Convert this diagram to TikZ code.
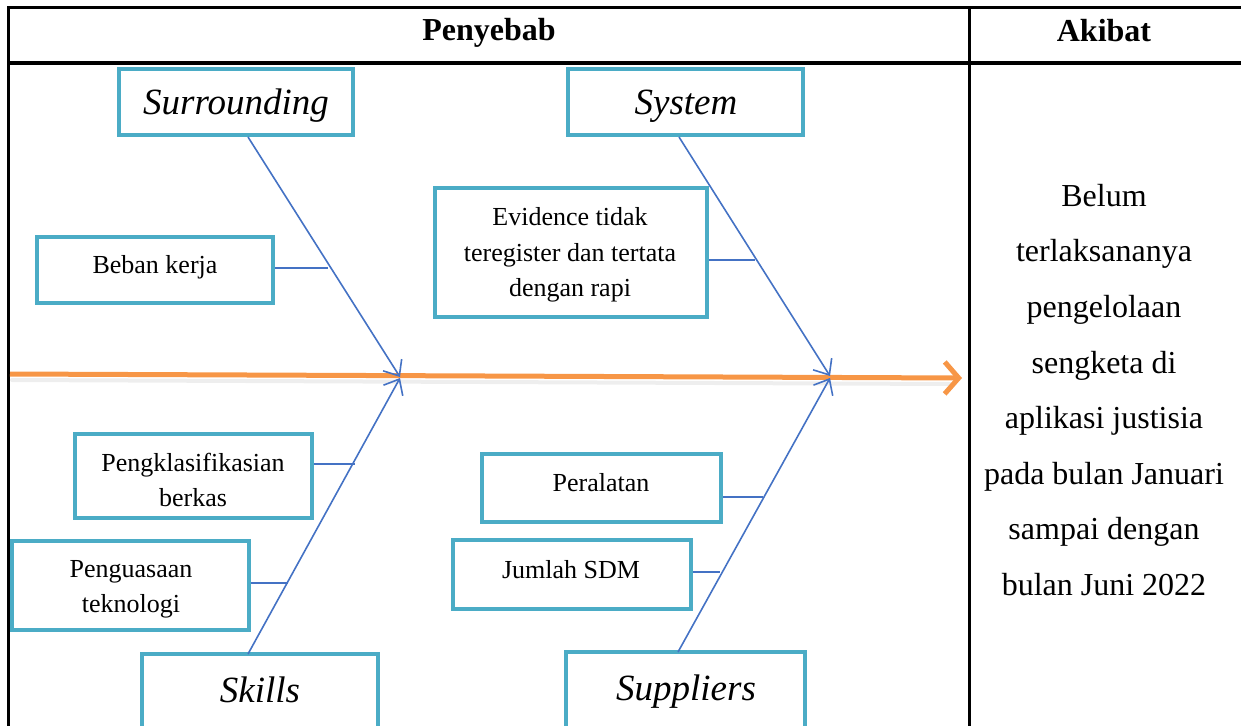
\documentclass[tikz,border=0pt]{standalone}
\usepackage{fontspec}
\setmainfont{Liberation Serif}
\usetikzlibrary{arrows.meta}
\definecolor{boxc}{RGB}{75,172,198}
\definecolor{bonec}{RGB}{68,114,196}
\definecolor{spinec}{RGB}{247,150,70}
\tikzset{
  causebox/.style={draw=boxc, line width=4.5pt, fill=white, inner sep=0pt},
  smalltxt/.style={font=\fontsize{26}{35.5}\selectfont, align=center, inner sep=0pt},
  bigtxt/.style={font=\fontsize{37}{40}\selectfont\itshape, inner sep=0pt},
  headtxt/.style={font=\fontsize{32}{34}\selectfont\bfseries, inner sep=0pt},
  efftxt/.style={font=\fontsize{32}{55.6}\selectfont, align=center, inner sep=0pt},
  bone/.style={draw=bonec, line width=1.6pt},
  bonearrow/.style={bone, -{Straight Barb[length=13pt,width=22pt,line width=1.6pt]}},
  rib/.style={draw=bonec, line width=1.4pt},
  tablerule/.style={draw=black, line width=3pt}
}
\begin{document}
\begin{tikzpicture}[x=1pt,y=-1pt]
\useasboundingbox (0,0) rectangle (1241,725);
\clip (0,0) rectangle (1241,725);
% table
\coordinate (tl) at (8,8);
\coordinate (tr) at (1245,8);
\coordinate (hl) at (8,63);
\coordinate (hr) at (1245,63);
\coordinate (bl) at (8,730);
\coordinate (dt) at (969,8);
\coordinate (db) at (969,730);
\draw[tablerule] (tr) -- (tl) -- (bl);
\draw[tablerule] (hl) -- (hr);
\draw[tablerule] (dt) -- (db);
\node[headtxt] (hcause) at (489,33) {Penyebab};
\node[headtxt] (heffect) at (1104,31) {Akibat};
% effect text
\node[efftxt] (effect) at (1104,390) {Belum\\terlaksananya\\pengelolaan\\sengketa di\\aplikasi justisia\\pada bulan Januari\\sampai dengan\\bulan Juni 2022};
% spine
\coordinate (s0) at (10,374);
\coordinate (s1) at (962,378);
\coordinate (s0s) at (12,380);
\coordinate (s1s) at (950,384);
\draw[line width=4pt, draw=black!15, opacity=0.45, line cap=round] (s0s) -- (s1s);
\draw[line width=5pt, draw=spinec, -{Straight Barb[length=14pt,width=32pt,line width=5pt]}] (s0) -- (s1);
% boxes
\node[causebox, minimum width=234pt, minimum height=66pt] (sur) at (236,102) {};
\node[causebox, minimum width=235pt, minimum height=66pt] (sys) at (685.5,102) {};
\node[causebox, minimum width=236pt, minimum height=66pt] (beb) at (155,270) {};
\node[causebox, minimum width=272pt, minimum height=129pt] (evi) at (571,252.5) {};
\node[causebox, minimum width=237pt, minimum height=84pt] (pkl) at (193.5,476) {};
\node[causebox, minimum width=237pt, minimum height=89pt] (pgt) at (130.5,585.5) {};
\node[causebox, minimum width=239pt, minimum height=68pt] (per) at (601.5,488) {};
\node[causebox, minimum width=238pt, minimum height=69pt] (sdm) at (572,574.5) {};
\node[causebox, minimum width=236pt, minimum height=84pt] (skl) at (260,696) {};
\node[causebox, minimum width=239pt, minimum height=84pt] (sup) at (685.5,694) {};
% texts
\node[bigtxt] (tsur) at (236,106) {Surrounding};
\node[bigtxt] (tsys) at (686,106) {System};
\node[bigtxt] (tskl) at (260,690) {Skills};
\node[bigtxt] (tsup) at (686,692) {Suppliers};
\node[smalltxt] (tbeb) at (155,267) {Beban kerja};
\node[smalltxt] (tevi) at (570,255) {Evidence tidak\\teregister dan tertata\\dengan rapi};
\node[smalltxt] (tpkl) at (193,480) {Pengklasifikasian\\berkas};
\node[smalltxt] (tpgt) at (131,589.5) {Penguasaan\\teknologi};
\node[smalltxt] (tper) at (601,483) {Peralatan};
\node[smalltxt] (tsdm) at (571,570) {Jumlah SDM};
% bones
\coordinate (bsur) at (248,137);
\coordinate (tipA) at (400,377);
\coordinate (bsys) at (679,137);
\coordinate (tipB) at (830,376);
\coordinate (bskl) at (248,654);
\coordinate (tipC) at (400,378);
\coordinate (bsup) at (678,652);
\coordinate (tipD) at (830,378);
\draw[bonearrow] (bsur) -- (tipA);
\draw[bonearrow] (bsys) -- (tipB);
\draw[bonearrow] (bskl) -- (tipC);
\draw[bonearrow] (bsup) -- (tipD);
% ribs
\coordinate (rbeb) at (328,268);
\coordinate (revi) at (755,260);
\coordinate (rpkl) at (355,464);
\coordinate (rpgt) at (288,583);
\coordinate (rper) at (763,497);
\coordinate (rsdm) at (720,572);
\draw[rib] (beb.east |- rbeb) -- (rbeb);
\draw[rib] (evi.east |- revi) -- (revi);
\draw[rib] (pkl.east |- rpkl) -- (rpkl);
\draw[rib] (pgt.east |- rpgt) -- (rpgt);
\draw[rib] (per.east |- rper) -- (rper);
\draw[rib] (sdm.east |- rsdm) -- (rsdm);
\end{tikzpicture}
\end{document}
